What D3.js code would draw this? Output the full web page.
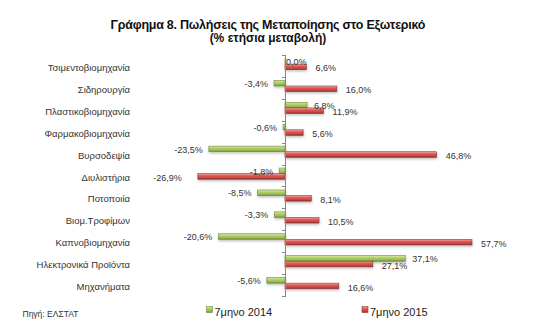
<!DOCTYPE html>
<html>
<head>
<meta charset="utf-8">
<script src="https://cdn.jsdelivr.net/npm/d3@7"></script>
<style>
  html, body { margin: 0; padding: 0; background: #fff; }
  svg { display: block; font-family: "Liberation Sans", Arial, sans-serif; }
</style>
</head>
<body>
<svg id="chart" width="537" height="331"></svg>
<script>
// Sectors, top to bottom
const categories = [
  "Τσιμεντοβιομηχανία", "Σιδηρουργία", "Πλαστικοβιομηχανία", "Φαρμακοβιομηχανία",
  "Βυρσοδεψία", "Διυλιστήρια", "Ποτοποιία", "Βιομ.Τροφίμων",
  "Καπνοβιομηχανία", "Ηλεκτρονικά Προϊόντα", "Μηχανήματα"
];
// Annual % change, seven-month periods
const values2014 = [0.0, -3.4, 6.8, -0.6, -23.5, -1.8, -8.5, -3.3, -20.6, 37.1, -5.6];
const values2015 = [6.6, 16.0, 11.9, 5.6, 46.8, -26.9, 8.1, 10.5, 57.7, 27.1, 16.6];
const seriesNames = ["7μηνο 2014", "7μηνο 2015"];
const xDomain = [-30, 70];

const svg = d3.select("#chart");
const defs = svg.append("defs");

// cylinder-like shading for each series
function barGradient(id, stops) {
  const g = defs.append("linearGradient").attr("id", id)
    .attr("x1", 0).attr("y1", 0).attr("x2", 0).attr("y2", 1);
  stops.forEach(([o, c]) => g.append("stop").attr("offset", o).attr("stop-color", c));
}
barGradient("gGreen", [[0, "#d6eba0"], [0.35, "#b3d26a"], [0.75, "#98b852"], [1, "#6f8a34"]]);
barGradient("gRed", [[0, "#f4b3b0"], [0.35, "#e05c57"], [0.75, "#c9443f"], [1, "#8e2f2c"]]);
const shadow = defs.append("filter").attr("id", "shadow")
  .attr("x", "-10%").attr("y", "-50%").attr("width", "120%").attr("height", "250%");
shadow.append("feDropShadow").attr("dx", 0.5).attr("dy", 1.5)
  .attr("stdDeviation", 0.9).attr("flood-color", "#000").attr("flood-opacity", 0.25);

const series = [
  { name: seriesNames[0], values: values2014, fill: "url(#gGreen)", stroke: "#71893f" },
  { name: seriesNames[1], values: values2015, fill: "url(#gRed)", stroke: "#8c3532" }
];

const x = d3.scaleLinear().domain(xDomain).range([187.8, 511.8]);
const y = d3.scaleBand().domain(categories).range([55, 296]);
const bw = y.bandwidth();
const sub = d3.scaleBand().domain([0, 1]).range([bw * 0.16, bw * 0.67]);

const fmt = v => d3.format(".1f")(v).replace(".", ",").replace("−", "-") + "%";

// Title
svg.append("text").attr("x", 268).attr("y", 28.5).attr("text-anchor", "middle")
  .attr("font-size", 12.5).attr("font-weight", "bold").attr("fill", "#111")
  .attr("textLength", 315).attr("lengthAdjust", "spacing")
  .text("Γράφημα 8. Πωλήσεις της Μεταποίησης στο Εξωτερικό");
svg.append("text").attr("x", 268).attr("y", 41.5).attr("text-anchor", "middle")
  .attr("font-size", 12).attr("font-weight", "bold").attr("fill", "#111")
  .text("(% ετήσια μεταβολή)");

// Category labels
svg.append("g").selectAll("text").data(categories).join("text")
  .attr("x", 130).attr("y", d => y(d) + bw / 2 + 5)
  .attr("text-anchor", "end").attr("font-size", 9.5).attr("fill", "#333")
  .text(d => d);

// Bars
series.forEach((s, i) => {
  svg.append("g").attr("filter", "url(#shadow)").selectAll("rect")
    .data(categories.map((c, k) => ({ c, v: s.values[k] })))
    .join("rect")
    .attr("x", d => x(Math.min(0, d.v)))
    .attr("width", d => Math.max(0.8, Math.abs(x(d.v) - x(0))))
    .attr("y", d => y(d.c) + sub(i))
    .attr("height", sub.bandwidth())
    .attr("fill", s.fill).attr("stroke", s.stroke).attr("stroke-width", 0.6);
});

// Value axis at zero, with category ticks
const axisG = svg.append("g").attr("stroke", "#868686").attr("stroke-width", 1);
axisG.append("line").attr("x1", x(0) + 0.5).attr("x2", x(0) + 0.5)
  .attr("y1", y.range()[0]).attr("y2", y.range()[1] + 1);
const boundaries = categories.map(c => y(c)).concat([y.range()[1]]);
axisG.selectAll("line.tick").data(boundaries).join("line").attr("class", "tick")
  .attr("x1", x(0) - 3).attr("x2", x(0) + 0.5)
  .attr("y1", d => Math.round(d) + 0.5).attr("y2", d => Math.round(d) + 0.5);

// Data labels
const g14 = svg.append("g").attr("font-size", 9).attr("fill", "#333");
values2014.forEach((v, k) => {
  const neg = v < 0;
  g14.append("text")
    .attr("x", neg ? x(v) - 6 : x(v) + (v === 0 ? 1 : 7))
    .attr("y", y(categories[k]) + bw / 2 - 1)
    .attr("text-anchor", neg ? "end" : "start")
    .text(fmt(v));
});
const g15 = svg.append("g").attr("font-size", 9).attr("fill", "#333");
values2015.forEach((v, k) => {
  const neg = v < 0;
  g15.append("text")
    .attr("x", neg ? x(v) - 16 : x(v) + 9)
    .attr("y", y(categories[k]) + bw / 2 + 5.5)
    .attr("text-anchor", neg ? "end" : "start")
    .text(fmt(v));
});

// Source note
svg.append("text").attr("x", 22.5).attr("y", 317).attr("font-size", 8.5).attr("fill", "#333")
  .text("Πηγή: ΕΛΣΤΑΤ");

// Legend
const legendX = [206.5, 362];
series.forEach((s, i) => {
  const lg = svg.append("g").attr("transform", `translate(${legendX[i]},306.5)`);
  lg.append("rect").attr("width", 6).attr("height", 6)
    .attr("fill", s.fill).attr("stroke", s.stroke).attr("stroke-width", 0.6);
  lg.append("text").attr("x", 8).attr("y", 9.5).attr("font-size", 11).attr("fill", "#222")
    .text(s.name);
});
</script>
</body>
</html>
